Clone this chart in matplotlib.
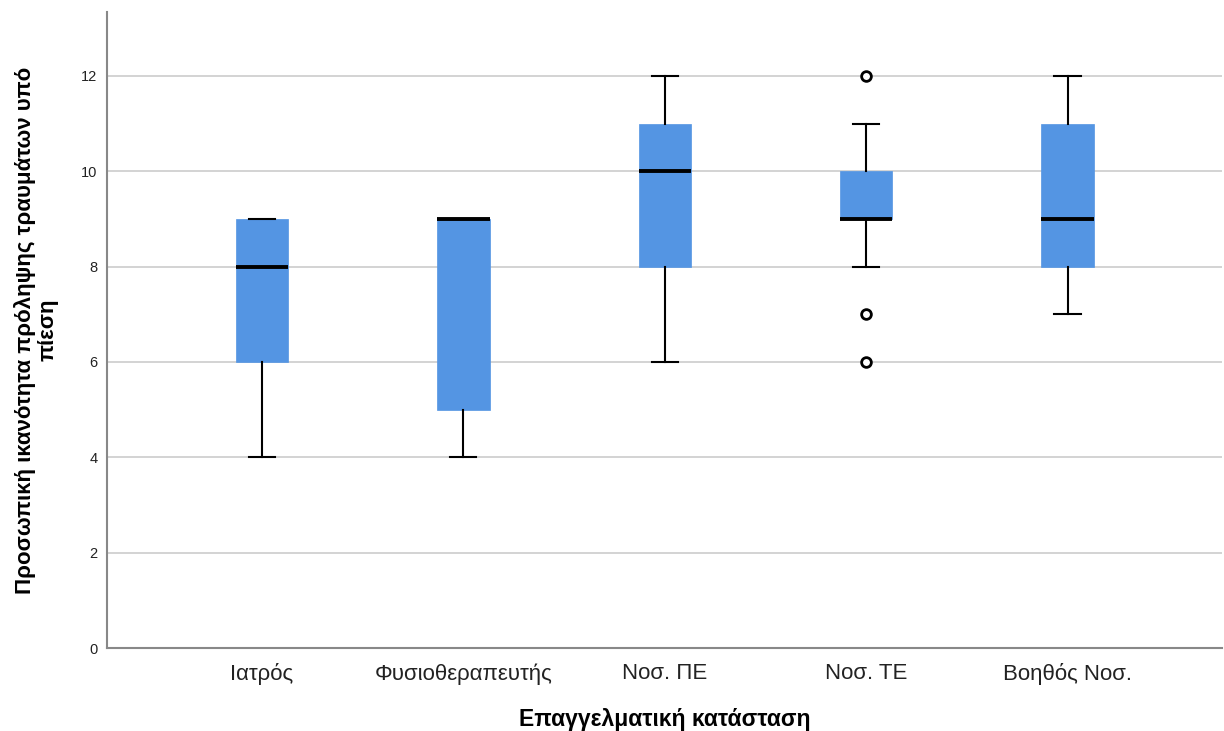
import matplotlib.pyplot as plt
import numpy as np

plt.rcParams["font.family"] = ["Liberation Sans", "DejaVu Sans"]

# Box statistics per professional group
groups = ["Ιατρός", "Φυσιοθεραπευτής", "Νοσ. ΠΕ", "Νοσ. ΤΕ", "Βοηθός Νοσ."]
q1 = [6, 5, 8, 9, 8]
median = [8, 9, 10, 9, 9]
q3 = [9, 9, 11, 10, 11]
whisker_low = [4, 4, 6, 8, 7]
whisker_high = [9, 9, 12, 11, 12]
outliers = [[], [], [], [12, 7, 6], []]

stats = []
for i, name in enumerate(groups):
    stats.append({
        "label": name,
        "q1": q1[i],
        "med": median[i],
        "q3": q3[i],
        "whislo": whisker_low[i],
        "whishi": whisker_high[i],
        "fliers": outliers[i],
    })

fig = plt.figure(figsize=(12.24, 7.31), dpi=100)
ax = fig.add_axes([0.0874, 0.1135, 0.9106, 0.8701])

positions = np.arange(1, len(groups) + 1)
ax.bxp(
    stats,
    positions=positions,
    widths=0.26,
    capwidths=0.13,
    patch_artist=True,
    boxprops=dict(facecolor="#5495e3", edgecolor="#5495e3", linewidth=0.5),
    medianprops=dict(color="black", linewidth=2.8, solid_capstyle="butt"),
    whiskerprops=dict(color="black", linewidth=1.5),
    capprops=dict(color="black", linewidth=1.5),
    flierprops=dict(marker="o", markersize=7, markerfacecolor="white",
                    markeredgecolor="black", markeredgewidth=2),
    zorder=3,
)

ax.set_xlim(0.23, 5.765)
ax.set_ylim(0, 13.34)
ax.set_yticks([0, 2, 4, 6, 8, 10, 12])
ax.yaxis.grid(True, color="#cccccc", linewidth=1.2, zorder=0)
ax.set_axisbelow(True)

ax.tick_params(axis="y", length=0, labelsize=10.5, pad=7, colors="#222222")
ax.tick_params(axis="x", length=0, labelsize=16, pad=11, colors="#222222")
ax.set_xticks(positions)
ax.set_xticklabels(groups)

for side in ["top", "right"]:
    ax.spines[side].set_visible(False)
for side in ["left", "bottom"]:
    ax.spines[side].set_color("#888888")
    ax.spines[side].set_linewidth(1.5)

ax.set_xlabel("Επαγγελματική κατάσταση", fontsize=16.5, fontweight="bold", labelpad=16)
ax.set_ylabel("Προσωπική ικανότητα πρόληψης τραυμάτων υπό\nπίεση",
              fontsize=16, fontweight="bold", labelpad=16, linespacing=1.1)

fig.savefig("out.png", dpi=100)
